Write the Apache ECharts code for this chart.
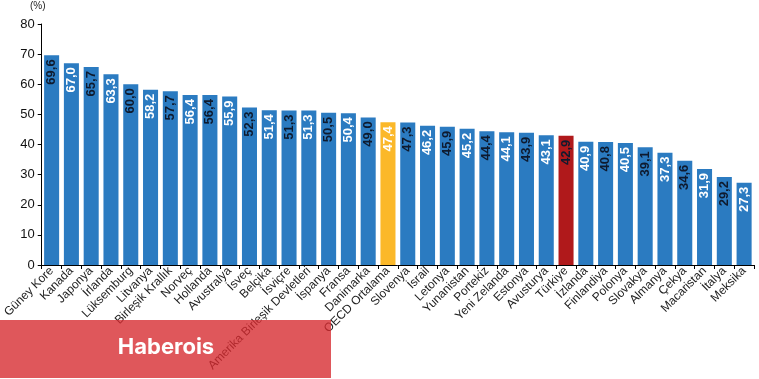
<!DOCTYPE html>
<html>
<head>
<meta charset="utf-8">
<script src="https://cdn.jsdelivr.net/npm/echarts@6/dist/echarts.min.js"></script>
<style>
html,body{margin:0;padding:0;background:#fff;}
#c{width:759px;height:379px;}
</style>
</head>
<body>
<div id="c"></div>
<script>
const categories = ["Güney Kore","Kanada","Japonya","İrlanda","Lüksemburg","Litvanya","Birleşik Krallık","Norveç","Hollanda","Avustralya","İsveç","Belçika","İsviçre","Amerika Birleşik Devletleri","İspanya","Fransa","Danimarka","OECD Ortalama","Slovenya","İsrail","Letonya","Yunanistan","Portekiz","Yeni Zelanda","Estonya","Avusturya","Türkiye","İzlanda","Finlandiya","Polonya","Slovakya","Almanya","Çekya","Macaristan","İtalya","Meksika"];
const values = [69.6,67.0,65.7,63.3,60.0,58.2,57.7,56.4,56.4,55.9,52.3,51.4,51.3,51.3,50.5,50.4,49.0,47.4,47.3,46.2,45.9,45.2,44.4,44.1,43.9,43.1,42.9,40.9,40.8,40.5,39.1,37.3,34.6,31.9,29.2,27.3];
const yTicks = [0,10,20,30,40,50,60,70,80];
const unitLabel = "(%)";
const watermark = "Haberois";

const BLUE = '#2B7BC1', YELLOW = '#FBB829', RED = '#B0191B';
function barColor(name){
  if (name === 'OECD Ortalama') return YELLOW;
  if (name === 'Türkiye') return RED;
  return BLUE;
}
const chart = echarts.init(document.getElementById('c'), null, {renderer:'canvas'});
chart.setOption({
  animation:false,
  backgroundColor:'#ffffff',
  grid:{left:40,right:5,top:24,bottom:114,containLabel:false},
  xAxis:{
    type:'category',
    data:categories,
    axisLine:{lineStyle:{color:'#000',width:1}},
    axisTick:{show:true,alignWithLabel:false,length:4,lineStyle:{color:'#000'}},
    axisLabel:{interval:0,rotate:45,fontSize:12,color:'#222',fontFamily:'Liberation Sans, Arial, sans-serif',margin:4}
  },
  yAxis:{
    type:'value',min:yTicks[0],max:yTicks[yTicks.length-1],interval:10,
    splitLine:{show:false},
    axisLine:{show:true,lineStyle:{color:'#000',width:1}},
    axisTick:{show:true,length:4,lineStyle:{color:'#000'}},
    axisLabel:{fontSize:13,color:'#111',fontFamily:'Liberation Sans, Arial, sans-serif',margin:7}
  },
  series:[{
    type:'bar',
    barCategoryGap:'24%',
    data:values.map((v,i)=>({
      value:v,
      itemStyle:{color:barColor(categories[i])},
      label:{color: i%2===0 ? '#0E1A2E' : '#FFFFFF'}
    })),
    label:{
      show:true,
      position:'insideTop',
      rotate:90,
      align:'right',
      verticalAlign:'middle',
      distance:4,
      fontSize:13,
      fontWeight:'bold',
      fontFamily:'Liberation Sans Narrow, Arial Narrow, Liberation Sans, sans-serif',
      formatter:p=>p.value.toFixed(1).replace('.',',')
    }
  }],
  graphic:[
    {type:'text',left:30,top:1,style:{text:unitLabel,fontSize:10,fill:'#222',fontFamily:'Liberation Sans, Arial, sans-serif'}},
    {type:'rect',z:100,shape:{x:0,y:320,width:331,height:58},style:{fill:'rgba(214,42,47,0.79)'}},
    {type:'text',z:101,x:166,y:347,style:{text:watermark,fill:'#fff',fontSize:22,fontWeight:'bold',fontFamily:'Inter, Liberation Sans, sans-serif',align:'center',verticalAlign:'middle'}}
  ]
});
</script>
</body>
</html>
